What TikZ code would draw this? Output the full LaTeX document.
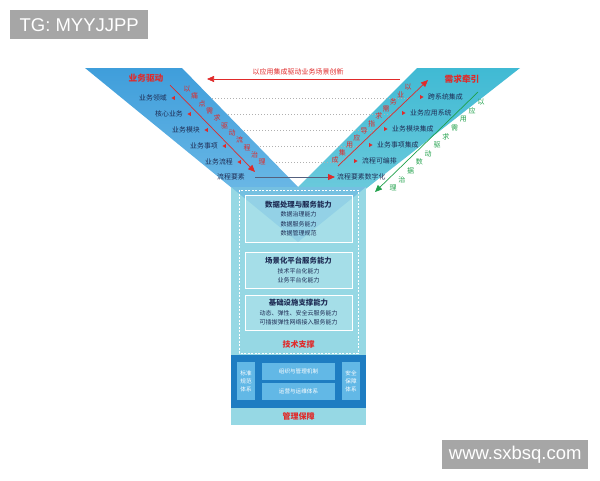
\documentclass[tikz,border=0pt]{standalone}
\usepackage{fontspec}
\setmainfont{Noto Sans CJK SC}
\newfontfamily\wmfont{Liberation Sans}
\usepackage{tikz}
\usetikzlibrary{positioning,shapes.geometric,arrows.meta}
\definecolor{armtopL}{HTML}{3F9EDB}
\definecolor{armbotL}{HTML}{7CC2EA}
\definecolor{armtopR}{HTML}{40BAD4}
\definecolor{armbotR}{HTML}{7CD0DF}
\definecolor{stemfill}{HTML}{96D8E4}
\definecolor{stemvee}{HTML}{5AAEE0}
\definecolor{capfill}{HTML}{B8E7ED}
\definecolor{basefill}{HTML}{1E7DC2}
\definecolor{baseinner}{HTML}{62B8E6}
\definecolor{titlered}{HTML}{E02A2A}
\definecolor{labelnavy}{HTML}{1F2D55}
\definecolor{drivegreen}{HTML}{1FA04A}
\definecolor{wmgray}{HTML}{A6A6A6}
\definecolor{dotgray}{HTML}{B0B0B0}
\definecolor{flowline}{HTML}{55607E}

\begin{document}
\begin{tikzpicture}[x=1pt,y=-1pt,
                    armlabel/.style={font=\fontsize{6.9}{8}\selectfont, text=labelnavy, inner sep=0pt},
                    armtitle/.style={font=\fontsize{8.7}{10}\selectfont\bfseries, text=titlered, inner sep=0pt},
                    tipmark/.style={isosceles triangle, isosceles triangle apex angle=60, fill=titlered,
                                    inner sep=0pt, minimum height=3.5pt, minimum width=3.5pt},
                    diagchar/.style={font=\fontsize{7}{8}\selectfont, inner sep=0pt},
                    redarrow/.style={titlered, line width=0.7pt, -{Triangle[length=7pt,width=6pt]}},
                    capbox/.style={draw=white, line width=0.9pt, fill=capfill, fill opacity=0.45, text opacity=1,
                                   text=labelnavy, align=center, minimum width=107pt, inner sep=0pt,
                                   font=\fontsize{6}{9.5}\selectfont},
                    basebox/.style={fill=baseinner, text=white, align=center, inner sep=0pt,
                                    font=\fontsize{5.6}{8}\selectfont},
                    wmbox/.style={fill=wmgray, text=white, inner sep=0pt, font=\wmfont\fontsize{18.5}{20}\selectfont}]
  \useasboundingbox (0,0) rectangle (600,480);

  \shade[top color=armtopL, bottom color=armbotL] (85,68) -- (182,68) -- (298,187) -- (298,242) -- cycle;
  \shade[top color=armtopR, bottom color=armbotR] (520,68) -- (417,68) -- (298,187) -- (298,242) -- cycle;

  \foreach \yy/\xa/\xb in {98/212/409, 114/228/392, 130/244/375, 146/260/358, 162/276/341}
    \draw[dotgray, line width=0.6pt, dash pattern=on 1pt off 2pt] (\xa,\yy) -- (\xb,\yy);

  \fill[stemfill] (231,187) rectangle (366,425);
  \fill[stemvee, fill opacity=0.55] (231,187) -- (366,187) -- (298,242) -- cycle;
  \draw[white, line width=0.8pt, dash pattern=on 2pt off 1.5pt] (239,190) rectangle (358,353);

  \node[capbox, minimum height=47pt] (dataab) at (298.5,218.5)
    {{\fontsize{7.4}{9.5}\selectfont\bfseries 数据处理与服务能力}\\数据治理能力\\数据服务能力\\数据管理规范};
  \node[capbox, minimum height=36pt] (sceneab) at (298.5,270)
    {{\fontsize{7.4}{9.5}\selectfont\bfseries 场景化平台服务能力}\\技术平台化能力\\业务平台化能力};
  \node[capbox, minimum height=35pt] (infraab) at (298.5,312.5)
    {{\fontsize{7.4}{9.5}\selectfont\bfseries 基础设施支撑能力}\\动态、弹性、安全云服务能力\\可插拔弹性网络接入服务能力};
  \node[armtitle, font=\fontsize{8}{10}\selectfont\bfseries] (techsup) at (298.5,344) {技术支撑};

  \fill[basefill] (231,355) rectangle (366,408);
  \node[basebox, minimum width=18pt, minimum height=38pt] (stdsys) at (246,381) {标准\\规范\\体系};
  \node[basebox, minimum width=73pt, minimum height=17pt] (orgmech) at (298.5,371.5) {组织与管理机制};
  \node[basebox, minimum width=73pt, minimum height=17pt] (opsys) at (298.5,391.5) {运营与运维体系};
  \node[basebox, minimum width=18pt, minimum height=38pt] (secsys) at (351,381) {安全\\保障\\体系};
  \node[armtitle, font=\fontsize{8}{10}\selectfont\bfseries] (mgmtsup) at (298.5,416) {管理保障};

  \coordinate (topR) at (400,79);
  \coordinate (topL) at (207,79);
  \draw[redarrow] (topR) -- (topL);
  \node[diagchar, text=titlered] (topnote) at (298,72) {以应用集成驱动业务场景创新};

  \node[armtitle] (bizdrive) at (146,78) {业务驱动};
  \node[armlabel, anchor=east] (bl1) at (167,98) {业务领域};
  \node[tipmark, shape border rotate=180, right=4pt of bl1] (bt1) {};
  \node[armlabel, anchor=east] (bl2) at (183,114) {核心业务};
  \node[tipmark, shape border rotate=180, right=4pt of bl2] (bt2) {};
  \node[armlabel, anchor=east] (bl3) at (200,130) {业务模块};
  \node[tipmark, shape border rotate=180, right=4pt of bl3] (bt3) {};
  \node[armlabel, anchor=east] (bl4) at (218,146) {业务事项};
  \node[tipmark, shape border rotate=180, right=4pt of bl4] (bt4) {};
  \node[armlabel, anchor=east] (bl5) at (233,162) {业务流程};
  \node[tipmark, shape border rotate=180, right=4pt of bl5] (bt5) {};
  \node[armlabel, anchor=east] (bl6) at (245,177) {流程要素};

  \node[armtitle] (needpull) at (462,79) {需求牵引};
  \node[armlabel, anchor=west] (rl1) at (428,97) {跨系统集成};
  \node[tipmark, left=4pt of rl1] (rt1) {};
  \node[armlabel, anchor=west] (rl2) at (410,113) {业务应用系统};
  \node[tipmark, left=4pt of rl2] (rt2) {};
  \node[armlabel, anchor=west] (rl3) at (392,129) {业务模块集成};
  \node[tipmark, left=4pt of rl3] (rt3) {};
  \node[armlabel, anchor=west] (rl4) at (377,145) {业务事项集成};
  \node[tipmark, left=4pt of rl4] (rt4) {};
  \node[armlabel, anchor=west] (rl5) at (362,161) {流程可编排};
  \node[tipmark, left=4pt of rl5] (rt5) {};
  \node[armlabel, anchor=west] (rl6) at (337,177) {流程要素数字化};

  \draw[flowline, line width=1pt, -{Triangle[length=7pt,width=6pt,color=titlered]}]
    ([xshift=10pt]bl6.east) -- ([xshift=-2pt]rl6.west);

  \coordinate (ldA) at (170,85);
  \coordinate (ldB) at (255,172);
  \draw[redarrow] (ldA) -- (ldB);
  \foreach \ch [count=\i from 0] in {以,痛,点,需,求,驱,动,流,程,治,理}
    \node[diagchar, text=titlered] at (187+7.5*\i,89+7.3*\i) {\ch};

  \coordinate (rdA) at (338,166);
  \coordinate (rdB) at (428,80);
  \draw[redarrow] (rdA) -- (rdB);
  \foreach \ch [count=\i from 0] in {以,业,务,需,求,指,导,应,用,集,成}
    \node[diagchar, text=titlered] at (408-7.3*\i,87+7.3*\i) {\ch};

  \coordinate (gdA) at (478,92);
  \coordinate (gdB) at (375,192);
  \draw[drivegreen, line width=0.7pt, -{Triangle[length=7pt,width=6pt]}] (gdA) -- (gdB);
  \foreach \ch [count=\i from 0] in {以,应,用,需,求,驱,动,数,据,治,理}
    \node[diagchar, text=drivegreen] at (481-8.8*\i,102+8.6*\i) {\ch};

  \node[wmbox, minimum width=138pt, minimum height=29pt, anchor=north west] (tgmark) at (10,10) {TG: MYYJJPP};
  \node[wmbox, minimum width=146pt, minimum height=29pt, anchor=north west] (sitemark) at (442,440) {www.sxbsq.com};
\end{tikzpicture}
\end{document}
